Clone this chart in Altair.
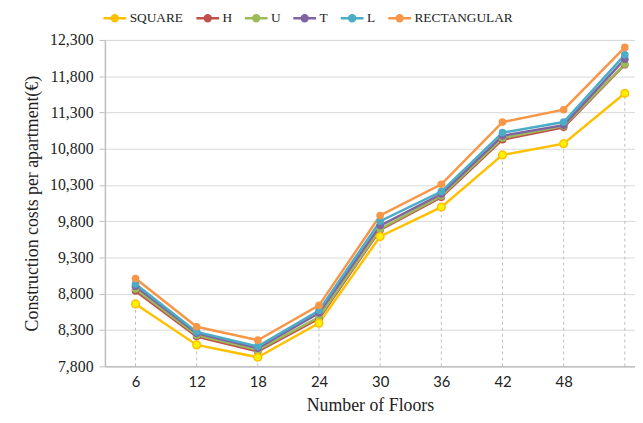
import altair as alt
import pandas as pd

floors = [6, 12, 18, 24, 30, 36, 42, 48, 54]
series_names = ["SQUARE", "H", "U", "T", "L", "RECTANGULAR"]
square = [8660, 8095, 7925, 8395, 9590, 9995, 10715, 10870, 11565]
h_vals = [8840, 8210, 8005, 8460, 9680, 10130, 10925, 11095, 11958]
u_vals = [8865, 8230, 8025, 8480, 9695, 10150, 10948, 11115, 11968]
t_vals = [8905, 8255, 8050, 8535, 9740, 10175, 10978, 11125, 12035]
l_vals = [8935, 8275, 8075, 8570, 9800, 10210, 11022, 11168, 12095]
rect_vals = [9010, 8345, 8160, 8640, 9880, 10310, 11168, 11338, 12197]
colors = ["#FFC000", "#C0504D", "#9BBB59", "#8064A2", "#4BACC6", "#F79646"]
y_ticks = [7800, 8300, 8800, 9300, 9800, 10300, 10800, 11300, 11800, 12300]
x_labels = [6, 12, 18, 24, 30, 36, 42, 48]

all_vals = [square, h_vals, u_vals, t_vals, l_vals, rect_vals]
rows = []
for name, vals in zip(series_names, all_vals):
    for f, v in zip(floors, vals):
        rows.append({"floors": f, "cost": v, "series": name})
df = pd.DataFrame(rows)
drop_df = pd.DataFrame({"floors": floors, "top": square, "base": [7800] * len(floors)})

xs = alt.Scale(domain=[3, 55], nice=False, zero=False)
ys = alt.Scale(domain=[7800, 12300], nice=False, zero=False)
cs = alt.Scale(domain=series_names, range=colors)

serif = "Liberation Serif"

x_axis = alt.Axis(
    values=x_labels,
    title="Number of Floors",
    titleFont=serif,
    titleFontSize=18,
    titleFontWeight="normal",
    titleColor="#222222",
    titlePadding=8,
    labelFont="Lato",
    labelFontSize=15,
    labelColor="#222222",
    labelPadding=8,
    ticks=False,
    grid=False,
    domainColor="#BFBFBF",
    domainWidth=1.5,
)
y_axis = alt.Axis(
    values=y_ticks,
    format=",.0f",
    labelOverlap=False,
    title="Construction costs per apartment(€)",
    titleFont=serif,
    titleFontSize=18,
    titleFontWeight="normal",
    titleColor="#222222",
    titlePadding=8,
    labelFont=serif,
    labelFontSize=16,
    labelColor="#222222",
    labelPadding=6,
    tickSize=6,
    tickColor="#BFBFBF",
    gridColor="#D9D9D9",
    gridWidth=1,
    domainColor="#BFBFBF",
    domainWidth=1.5,
)

drops = alt.Chart(drop_df).mark_rule(color="#BFBFBF", strokeDash=[3, 3], strokeWidth=1).encode(
    x=alt.X("floors:Q", scale=xs, axis=x_axis),
    y=alt.Y("base:Q", scale=ys, axis=y_axis),
    y2="top:Q",
)

legend = alt.Legend(
    title=None,
    orient="none",
    direction="horizontal",
    legendX=-3,
    legendY=-35,
    symbolType="M-1,0 L1,0 M-0.26,0 A0.26,0.26 0 1,0 0.26,0 A0.26,0.26 0 1,0 -0.26,0",
    symbolSize=529,
    symbolStrokeWidth=2.5,
    labelFont=serif,
    labelFontSize=13.5,
    labelColor="#222222",
    labelOffset=2,
    columnPadding=7,
)

lines = alt.Chart(df).mark_line(strokeWidth=2.5).encode(
    x=alt.X("floors:Q", scale=xs, axis=x_axis),
    y=alt.Y("cost:Q", scale=ys, axis=y_axis),
    color=alt.Color("series:N", scale=cs, sort=series_names, legend=legend),
    detail="series:N",
    order="floors:Q",
)

points = alt.Chart(df).mark_point(filled=True, size=60, opacity=1).encode(
    x=alt.X("floors:Q", scale=xs, axis=x_axis),
    y=alt.Y("cost:Q", scale=ys, axis=y_axis),
    color=alt.Color("series:N", scale=cs, sort=series_names, legend=None),
)

sq_df = df[df["series"] == "SQUARE"]
sq_points = alt.Chart(sq_df).mark_point(filled=True, size=60, fill="#FFF200", stroke="#FFC000", strokeWidth=1.5, opacity=1).encode(
    x=alt.X("floors:Q", scale=xs, axis=x_axis),
    y=alt.Y("cost:Q", scale=ys, axis=y_axis),
)

chart = alt.layer(drops, lines, points, sq_points).properties(
    width=536,
    height=330,
    autosize=alt.AutoSizeParams(type="none"),
    padding={"left": 98, "top": 30, "right": 0, "bottom": 54},
).configure_view(stroke=None).configure(background="white").configure_legend(
    labelFont=serif, labelFontSize=13.5, labelColor="#222222"
)

chart.save("out.html", embed_options={"renderer": "svg", "actions": False})
